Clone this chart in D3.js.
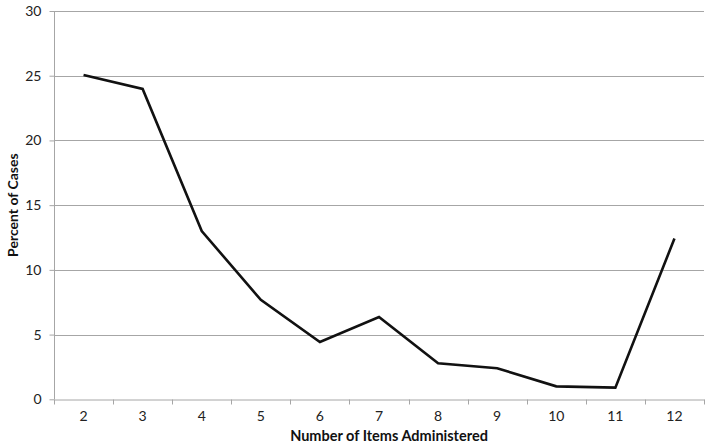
<!DOCTYPE html>
<html><head><meta charset="utf-8">
<script src="https://cdn.jsdelivr.net/npm/d3@7"></script>
<style>body{margin:0;background:#fff}svg{display:block}</style>
</head><body><svg id="c" width="712" height="445"></svg>
<script>
const categories = ["2","3","4","5","6","7","8","9","10","11","12"];
const values = [25.05, 23.98, 13.0, 7.68, 4.43, 6.36, 2.78, 2.4, 1.0, 0.9, 12.42];
const yTicks = [0,5,10,15,20,25,30];
const xTitle = "Number of Items Administered";
const yTitle = "Percent of Cases";

const svg = d3.select("#c");
const m = {l:54, r:8, t:11, b:45};
const W = 712, H = 445;
const x = d3.scaleBand().domain(categories).range([m.l, W - m.r]);
const y = d3.scaleLinear().domain([0,30]).range([H - m.b - 0.7, m.t]);
const font = "Lato, 'Open Sans', sans-serif";

// gridlines
svg.append("g").selectAll("line").data(yTicks.filter(d=>d>0)).join("line")
  .attr("x1", m.l).attr("x2", W - m.r)
  .attr("y1", d=>Math.round(y(d))+0.5).attr("y2", d=>Math.round(y(d))+0.5)
  .attr("stroke", "#a6a6a6").attr("stroke-width", 1);

// y axis
const ya = svg.append("g").attr("transform", `translate(${m.l+0.5},0)`)
  .call(d3.axisLeft(y).tickValues(yTicks).tickSize(5).tickPadding(8).tickFormat(d3.format("d")));
ya.select(".domain").attr("stroke", "#a6a6a6").attr("d", `M0,${y(30)}V${y(0)}`);
ya.selectAll(".tick line").attr("stroke", "#a6a6a6");
ya.selectAll(".tick text").attr("font-family", font).attr("font-size", 14).attr("fill", "#222");

// x axis
const xa = svg.append("g").attr("transform", `translate(0,${Math.round(y(0))+0.5})`)
  .call(d3.axisBottom(x).tickSize(0).tickPadding(12));
xa.select(".domain").attr("stroke", "#a6a6a6");
xa.selectAll(".tick text").attr("font-family", font).attr("font-size", 14).attr("fill", "#222");
// x tick marks at band edges
const edges = categories.map(c => x(c)).concat([x.range()[1]]);
xa.append("g").selectAll("line").data(edges).join("line")
  .attr("x1", d=>Math.round(d)+0.5).attr("x2", d=>Math.round(d)+0.5)
  .attr("y1", 0).attr("y2", 5).attr("stroke", "#a6a6a6");

// line
const line = d3.line().x((d,i)=>x(categories[i]) + x.bandwidth()/2).y(d=>y(d));
svg.append("path").datum(values).attr("d", line)
  .attr("fill", "none").attr("stroke", "#111").attr("stroke-width", 2.6)
  .attr("stroke-linejoin", "miter");

// titles
svg.append("text").attr("x", 389).attr("y", 441)
  .attr("text-anchor", "middle").attr("font-family", font).attr("font-weight", "bold")
  .attr("font-size", 14.5).attr("fill", "#111").text(xTitle);
svg.append("text").attr("transform", `translate(18,${(m.t + y(0))/2}) rotate(-90)`)
  .attr("text-anchor", "middle").attr("font-family", font).attr("font-weight", "bold")
  .attr("font-size", 14).attr("fill", "#111").text(yTitle);
</script></body></html>
